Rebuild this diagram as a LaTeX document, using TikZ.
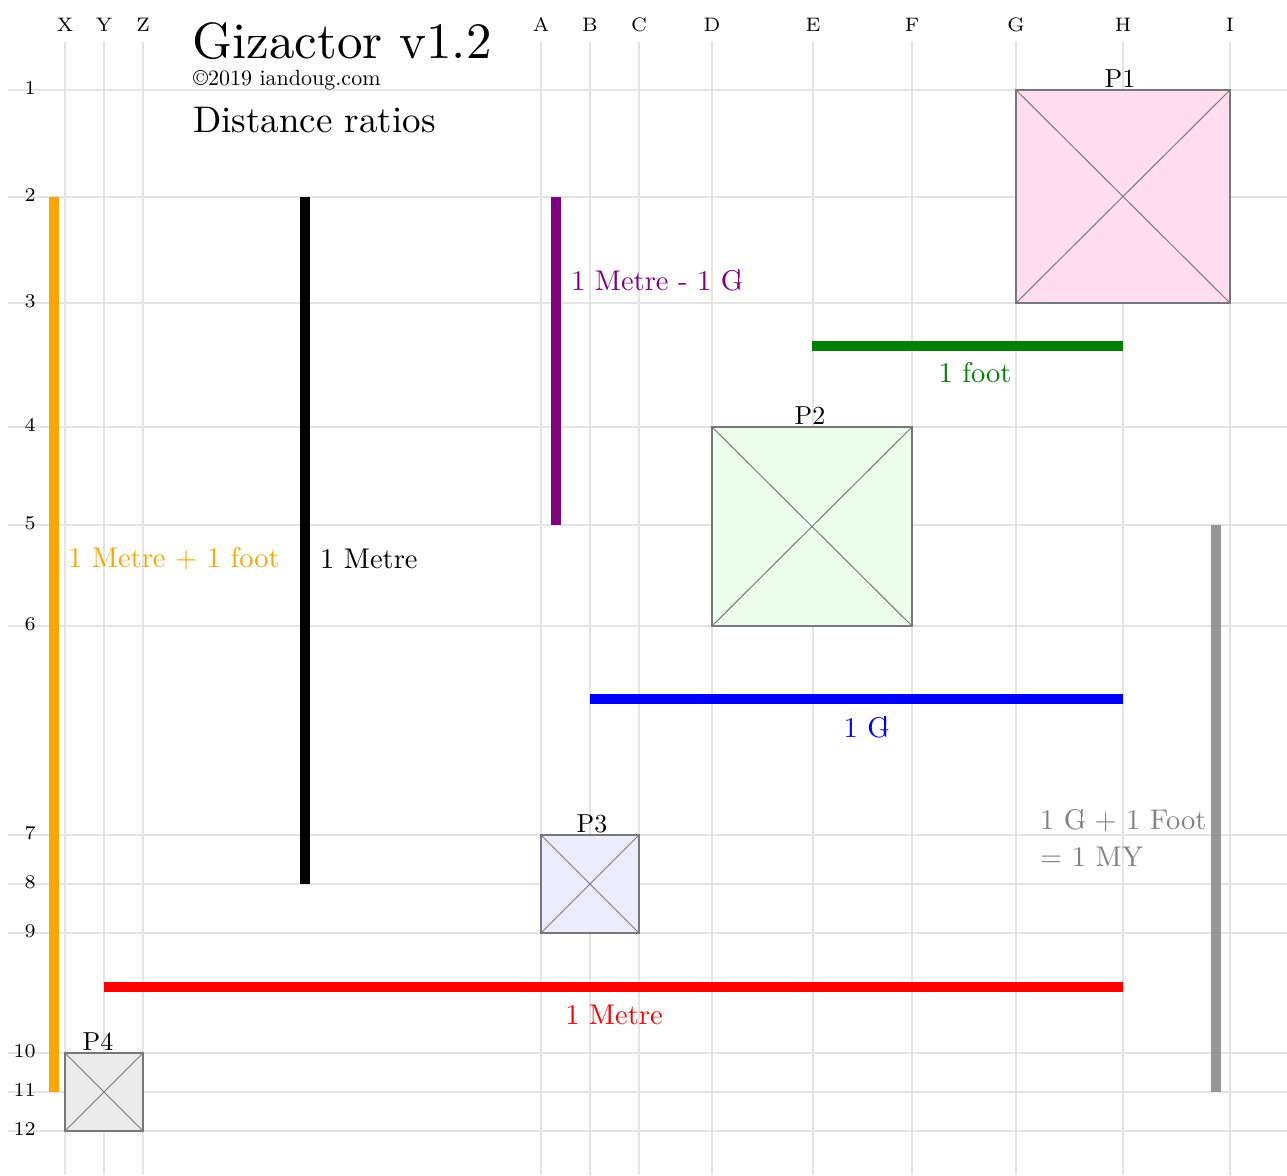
\documentclass[tikz,border=0pt]{standalone}
\usepackage{fontspec}
\setmainfont{lmroman10-regular.otf}
\newfontfamily\axisfont{lmroman7-regular.otf}
\definecolor{gridgray}{RGB}{228,228,228}
\definecolor{boxline}{RGB}{120,120,120}
\definecolor{pinkfill}{RGB}{255,221,238}
\definecolor{greenfill}{RGB}{236,255,236}
\definecolor{bluefill}{RGB}{236,236,255}
\definecolor{grayfill}{RGB}{235,235,235}
\definecolor{barorange}{RGB}{255,165,0}
\definecolor{barpurple}{RGB}{128,0,128}
\definecolor{bargreen}{RGB}{0,128,0}
\definecolor{bargray}{RGB}{150,150,150}
\definecolor{labgray}{RGB}{130,130,130}
\newcommand\gsym{G\kern-0.2em\rule[0.55ex]{0.055em}{1.15ex}\kern0.1em}
\tikzset{
  gridline/.style={draw=gridgray, line width=1.5pt},
  axislab/.style={font=\axisfont\fontsize{19.5}{19.5}\selectfont, inner sep=0pt},
  bar/.style={line width=10.5pt},
  boxnode/.style={draw=boxline, line width=1.5pt, inner sep=0pt, outer sep=0pt},
  crossline/.style={draw=boxline, line width=1pt},
  ptlab/.style={font=\fontsize{26}{26}\selectfont, anchor=south, inner sep=0pt, yshift=2pt},
  measure/.style={font=\fontsize{28.5}{37}\selectfont, inner sep=0pt},
}
\begin{document}
\begin{tikzpicture}[x=1pt,y=-1pt]
\useasboundingbox[fill=white] (0,0) rectangle (1287,1175);
% grid columns
\foreach \n/\x in {X/65,Y/104,Z/143,A/541,B/590,C/639,D/712,E/813,F/912,G/1016,H/1123,I/1230}{
  \draw[gridline] (\x,42) -- (\x,1175);
  \node[axislab] (col\n) at (\x,25) {\n};
}
% grid rows
\foreach \n/\y in {1/90,2/197,3/303,4/427,5/525,6/626,7/835,8/884,9/933,10/1053,11/1092,12/1131}{
  \draw[gridline] (8,\y) -- (1287,\y);
  \node[axislab, anchor=east] (row\n) at (36,\y-2) {\n};
}
% title
\node[anchor=base west, inner sep=0pt, font=\fontsize{51}{51}\selectfont] (title) at (192,58) {Gizactor v1.2};
\node[anchor=base west, inner sep=0pt, font=\fontsize{22}{22}\selectfont] (copy) at (193,85) {\textcopyright2019 iandoug.com};
\node[anchor=base west, inner sep=0pt, font=\fontsize{37}{37}\selectfont] (subtitle) at (193,132) {Distance ratios};
% boxes
\node[boxnode, fill=pinkfill, minimum width=214pt, minimum height=213pt] (p1) at (1123,196.5) {};
\node[boxnode, fill=greenfill, minimum width=200pt, minimum height=199pt] (p2) at (812,526.5) {};
\node[boxnode, fill=bluefill, minimum width=98pt, minimum height=98pt] (p3) at (590,884) {};
\node[boxnode, fill=grayfill, minimum width=78pt, minimum height=78pt] (p4) at (104,1092) {};
\foreach \b/\t in {p1/P1,p2/P2,p3/P3,p4/P4}{
  \draw[crossline] (\b.north west) -- (\b.south east) (\b.north east) -- (\b.south west);
}
\node[ptlab] (p1lab) at ([xshift=-3pt]p1.north) {P1};
\node[ptlab] (p2lab) at ([xshift=-2pt]p2.north) {P2};
\node[ptlab] (p3lab) at ([xshift=2pt]p3.north) {P3};
\node[ptlab] (p4lab) at ([xshift=-6pt]p4.north) {P4};
% bars
\coordinate (ora) at (54,197);  \coordinate (orb) at (54,1092);
\coordinate (bla) at (305,197); \coordinate (blb) at (305,884);
\coordinate (pua) at (556,197); \coordinate (pub) at (556,525);
\coordinate (gya) at (1216,525); \coordinate (gyb) at (1216,1092);
\coordinate (gra) at (812,346); \coordinate (grb) at (1123,346);
\coordinate (bua) at (590,699); \coordinate (bub) at (1123,699);
\coordinate (rea) at (104,987); \coordinate (reb) at (1123,987);
\draw[bar, barorange] (ora) -- (orb);
\draw[bar, black] (bla) -- (blb);
\draw[bar, barpurple] (pua) -- (pub);
\draw[bar, bargray] (gya) -- (gyb);
\draw[bar, bargreen] (gra) -- (grb);
\draw[bar, blue] (bua) -- (bub);
\draw[bar, red] (rea) -- (reb);
% labels
\node[measure, text=barorange, anchor=west] (lor) at (68,559) {1 Metre + 1 foot};
\node[measure, text=black, anchor=west] (lbl) at (320,559) {1 Metre};
\node[measure, text=barpurple, anchor=west] (lpu) at (571,280) {1 Metre - 1 \gsym};
\node[measure, text=bargreen] (lgr) at (975,373) {1 foot};
\node[measure, text=blue] (lbu) at (866,727) {1 \gsym};
\node[measure, text=labgray, anchor=west, align=left] (lgy) at (1040,838) {1 \gsym{} + 1 Foot\\= 1 MY};
\node[measure, text=red] (lre) at (614,1015) {1 Metre};
\end{tikzpicture}
\end{document}
